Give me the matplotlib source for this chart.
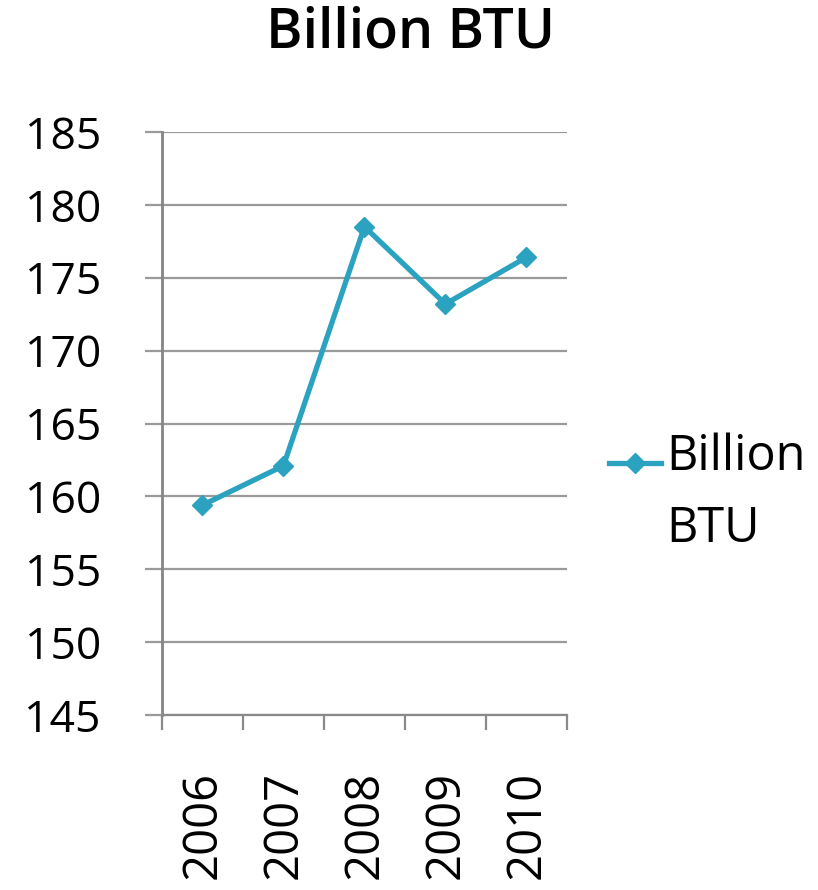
import matplotlib.pyplot as plt
import numpy as np

years = ['2006', '2007', '2008', '2009', '2010']
btu = [159.4, 162.1, 178.5, 173.2, 176.4]
yticks = [145, 150, 155, 160, 165, 170, 175, 180, 185]

plt.rcParams['font.family'] = ['Open Sans', 'DejaVu Sans']
color = '#2CA2C1'

fig = plt.figure(figsize=(8.18, 8.90), dpi=100)
ax = fig.add_axes([0.198, 0.1966, 0.495, 0.6551])

x = np.arange(len(years))
ax.plot(x, btu, color=color, lw=3.8, marker='D', markersize=10, zorder=3)

ax.set_xlim(-0.5, len(years) - 0.5)
ax.set_ylim(145, 185)
ax.set_yticks(yticks)
ax.set_yticklabels([str(t) for t in yticks], fontsize=32)
ax.grid(axis='y', color='#9a9a9a', lw=1.6)
ax.tick_params(axis='y', length=12, width=1.6, color='#9a9a9a', pad=32)

# category boundaries get the tick marks, centres get the labels
ax.set_xticks(np.arange(len(years) + 1) - 0.5)
ax.set_xticklabels([])
ax.set_xticks(x, minor=True)
ax.set_xticklabels(years, minor=True, rotation=90, fontsize=34, va='top')
ax.tick_params(axis='x', which='major', length=11, width=1.6, color='#8a8a8a')
ax.tick_params(axis='x', which='minor', length=0, pad=40)

for s in ['top', 'right']:
    ax.spines[s].set_visible(False)
ax.spines['left'].set_color('#858585')
ax.spines['left'].set_linewidth(2)
ax.spines['bottom'].set_color('#8a8a8a')
ax.spines['bottom'].set_linewidth(1.6)

fig.text(0.502, 0.962, 'Billion BTU', ha='center', va='center',
         fontsize=40, fontweight='semibold')

# legend drawn by hand so the marker sits on the first line
fig.add_artist(plt.Line2D([0.745, 0.808], [0.480, 0.480], color=color, lw=3.8,
                          transform=fig.transFigure))
fig.add_artist(plt.Line2D([0.7765], [0.480], color=color, marker='D',
                          markersize=10, transform=fig.transFigure))
fig.text(0.815, 0.486, 'Billion', ha='left', va='center', fontsize=35)
fig.text(0.815, 0.405, 'BTU', ha='left', va='center', fontsize=35)

fig.savefig('out.png', dpi=100)
